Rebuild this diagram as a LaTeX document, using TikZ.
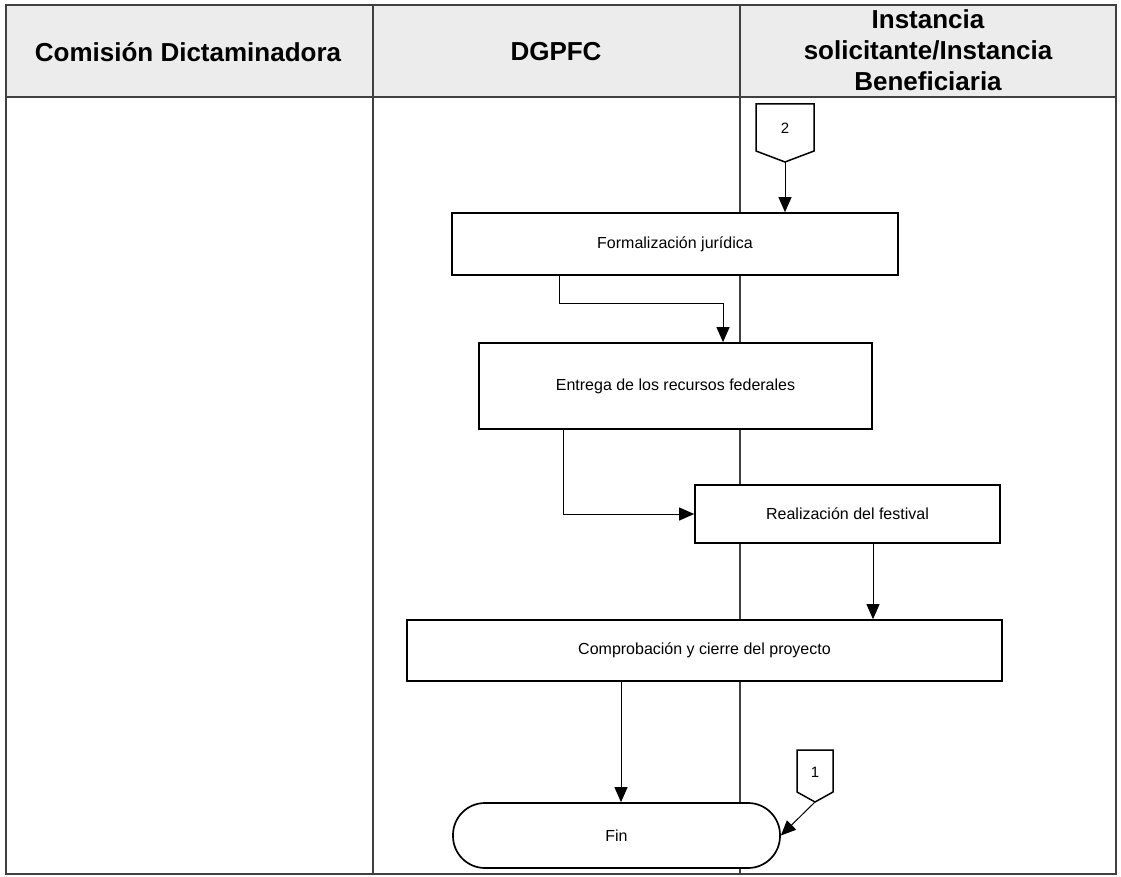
\documentclass[tikz,border=0pt]{standalone}
\usepackage{fontspec}
\setmainfont{Liberation Sans}
\usetikzlibrary{arrows.meta}
\begin{document}
\begin{tikzpicture}[x=1pt,y=-1pt,
  tline/.style={line width=1.3pt, draw=black!75},
  procbox/.style={draw, line width=1.7pt, fill=white, font=\fontsize{16}{19}\selectfont, inner sep=0pt},
  flow/.style={line width=1pt, -{Triangle[length=15pt,width=13pt]}},
  hdr/.style={font=\fontsize{26}{31}\selectfont\bfseries, align=center},
  offpage/.style={draw, line width=1.5pt, fill=white},
  numlabel/.style={font=\fontsize{15}{17}\selectfont, inner sep=0pt}
]
\useasboundingbox (0,0) rectangle (1121,877);
% table
\fill[gray!15] (6,5) rectangle (1116,97);
\draw[tline] (6,5) rectangle (1116,874);
\draw[tline] (6,97) -- (1116,97);
\draw[tline] (373,5) -- (373,874);
\draw[tline] (740,5) -- (740,874);
% headers
\node[hdr] (h1) at (188,52) {Comisión Dictaminadora};
\node[hdr] (h2) at (556,52) {DGPFC};
\node[hdr] (h3) at (928,50) {Instancia\\solicitante/Instancia\\Beneficiaria};
% off-page connector 2
\draw[offpage] (756,104) -- (814,104) -- (814,151) -- (785,162) -- (756,151) -- cycle;
\node[numlabel] (c2) at (785,128) {2};
\coordinate (c2tip) at (785,162);
% off-page connector 1
\draw[offpage] (797,750) -- (833,750) -- (833,792) -- (815,802) -- (797,792) -- cycle;
\node[numlabel] (c1) at (815,772) {1};
\coordinate (c1tip) at (815,802);
% process boxes
\node[procbox, minimum width=446pt, minimum height=62pt] (form) at (675,244) {Formalización jurídica};
\node[procbox, minimum width=393pt, minimum height=86pt] (ent) at (675.5,386) {Entrega de los recursos federales};
\node[procbox, minimum width=305pt, minimum height=58pt] (real) at (847.5,514) {Realización del festival};
\node[procbox, minimum width=595pt, minimum height=61pt] (comp) at (704.5,650.5) {Comprobación y cierre del proyecto};
\node[procbox, rounded corners=32pt, minimum width=327pt, minimum height=65pt] (fin) at (616.5,835.5) {Fin};
% connectors
\draw[flow] (c2tip) -- (c2tip |- form.north);
\draw[flow] ([xshift=-116pt]form.south) -- ++(0,28) -| ([xshift=47.5pt]ent.north);
\draw[flow] ([xshift=-112.5pt]ent.south) |- (real.west);
\coordinate (r1) at ([xshift=25.5pt]real.south);
\draw[flow] (r1) -- (r1 |- comp.north);
\coordinate (cb) at ([xshift=-83.5pt]comp.south);
\draw[flow] (cb) -- (cb |- fin.north);
\draw[flow] (c1tip) -- (fin.east);
\end{tikzpicture}
\end{document}
